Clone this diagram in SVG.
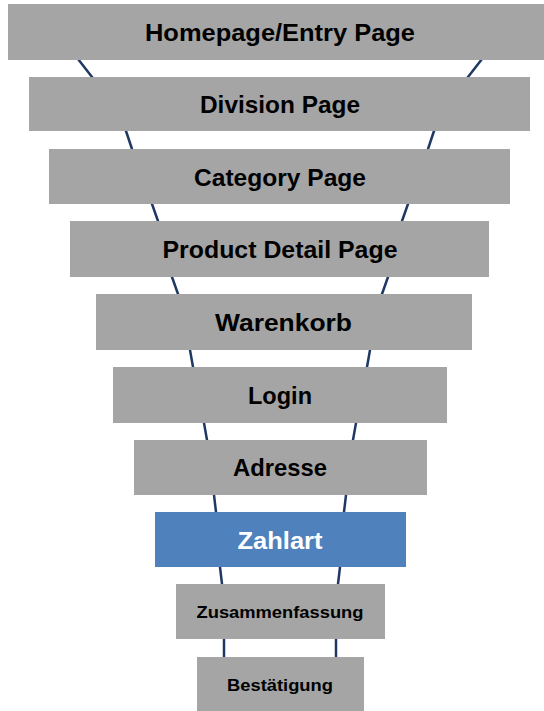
<svg xmlns="http://www.w3.org/2000/svg" width="544" height="711" viewBox="0 0 544 711">
<style>
.box{fill:#A5A5A5;}
.hl{fill:#4F81BD;}
.lbl{font-family:"Liberation Sans",Arial,sans-serif;font-weight:bold;font-size:24px;fill:#000;text-anchor:middle;}
.sm{font-size:17px;}
.wh{fill:#fff;}
.funnel{fill:none;stroke:#1F3864;stroke-width:2.5;stroke-linejoin:round;}
</style>
<rect width="544" height="711" fill="#fff"/>
<g id="connectors">
<polyline class="funnel" points="78,59 92,77 126,131 132,149 152,204 158,221 172,277 178,294 190,350 193,367 204,423 207,440 214,495 216,512 220,567 222,584 224,639 224,657"/>
<polyline class="funnel" points="482,59 468,77 434,131 428,149 408,204 402,221 388,277 382,294 370,350 367,367 356,423 353,440 346,495 344,512 340,567 338,584 336,639 336,657"/>
</g>
<g id="homepage"><rect class="box" x="8" y="4" width="544" height="56"/><text class="lbl" x="280" y="41" textLength="270" lengthAdjust="spacingAndGlyphs">Homepage/Entry Page</text></g>
<g id="division"><rect class="box" x="29" y="77" width="501" height="54"/><text class="lbl" x="280" y="113" textLength="160" lengthAdjust="spacingAndGlyphs">Division Page</text></g>
<g id="category"><rect class="box" x="49" y="149" width="461" height="55"/><text class="lbl" x="280" y="186" textLength="172" lengthAdjust="spacingAndGlyphs">Category Page</text></g>
<g id="product"><rect class="box" x="70" y="221" width="419" height="56"/><text class="lbl" x="280" y="258" textLength="235" lengthAdjust="spacingAndGlyphs">Product Detail Page</text></g>
<g id="warenkorb"><rect class="box" x="96" y="294" width="376" height="56"/><text class="lbl" x="283.5" y="331" textLength="137" lengthAdjust="spacingAndGlyphs">Warenkorb</text></g>
<g id="login"><rect class="box" x="113" y="367" width="334" height="56"/><text class="lbl" x="280" y="404" textLength="64" lengthAdjust="spacingAndGlyphs">Login</text></g>
<g id="adresse"><rect class="box" x="134" y="440" width="293" height="55"/><text class="lbl" x="280" y="476" textLength="94" lengthAdjust="spacingAndGlyphs">Adresse</text></g>
<g id="zahlart"><rect class="hl" x="155" y="512" width="251" height="55"/><text class="lbl wh" x="280" y="549" textLength="85" lengthAdjust="spacingAndGlyphs">Zahlart</text></g>
<g id="zusammenfassung"><rect class="box" x="176" y="584" width="209" height="55"/><text class="lbl sm" x="280" y="618" textLength="167" lengthAdjust="spacingAndGlyphs">Zusammenfassung</text></g>
<g id="bestaetigung"><rect class="box" x="197" y="657" width="167" height="54"/><text class="lbl sm" x="280" y="691" textLength="106" lengthAdjust="spacingAndGlyphs">Bestätigung</text></g>
</svg>
